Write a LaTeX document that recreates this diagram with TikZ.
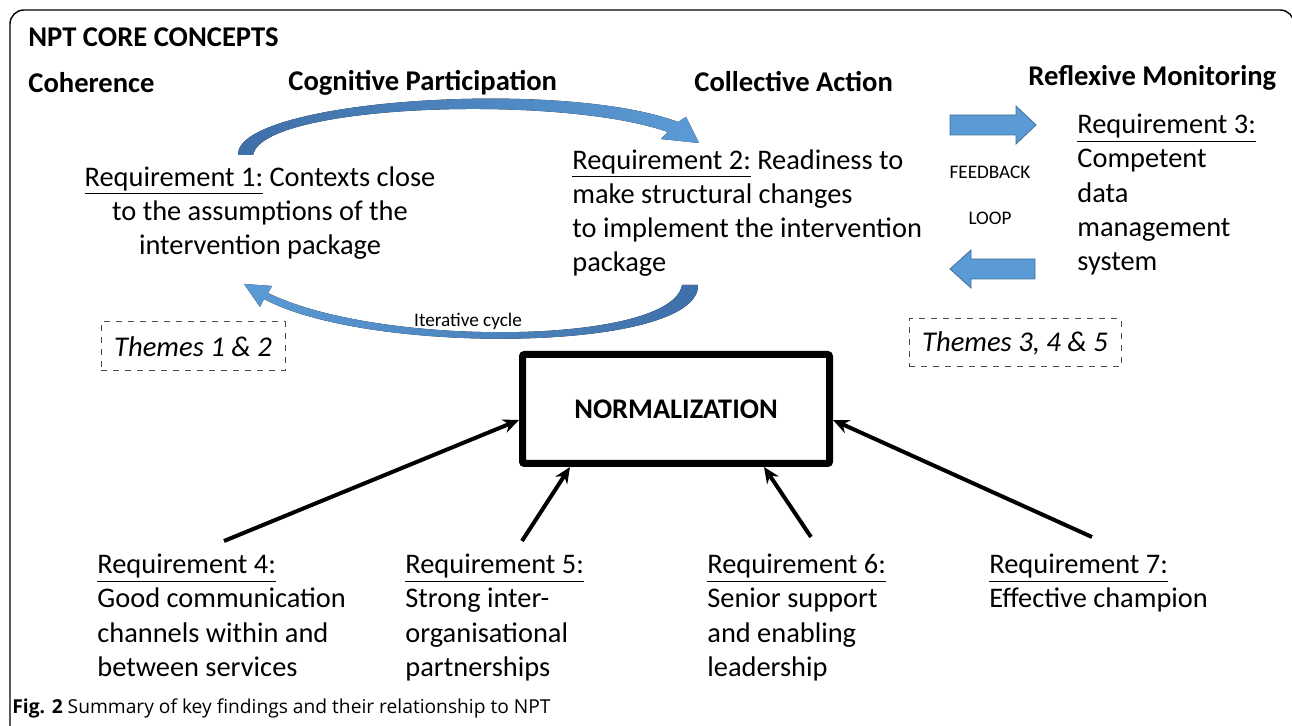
\documentclass[tikz,border=0pt]{standalone}
\usepackage{fontspec}
\setmainfont{Carlito}
\newfontfamily\capfont{Open Sans}
\usetikzlibrary{arrows.meta,positioning}
\definecolor{arcdark}{HTML}{3F6FA8}
\definecolor{arclight}{HTML}{5B9BD5}
\definecolor{blockblue}{HTML}{5B9BD5}
\definecolor{blockedge}{HTML}{41719C}
\newcommand{\ul}[1]{\underline{\smash{#1}\vphantom{Rq}}}
\begin{document}
\begin{tikzpicture}[x=0.5pt,y=-0.5pt,
  heading/.style={font=\bfseries\fontsize{14.3}{17}\selectfont, inner sep=0, anchor=west},
  reqtext/.style={font=\fontsize{14.2}{17.1}\selectfont, inner sep=0, align=left, anchor=north west},
  themebox/.style={draw=black!70, dashed, line width=0.5pt, font=\itshape\fontsize{14.3}{17}\selectfont},
  feed/.style={font=\fontsize{9.6}{11}\selectfont, inner sep=0},
  normbox/.style={draw, line width=3.5pt, rounded corners=1pt, minimum width=153.5pt, minimum height=54.5pt, font=\bfseries\fontsize{14.2}{17}\selectfont},
  pointer/.style={line width=2pt, -{Stealth[length=8pt, width=7pt]}},
  blockarrow/.style={fill=blockblue, draw=blockedge, line width=0.4pt}]
\useasboundingbox (0,0) rectangle (1292,726);
\begin{scope}
  \clip (0,0) rectangle (1292,726);
  \draw[line width=0.7pt, rounded corners=7pt] (10,10) rectangle (1294,750);
\end{scope}

% headings
\node[heading] (title) at (28,37) {NPT CORE CONCEPTS};
\node[heading] (coh) at (28,83) {Coherence};
\node[heading] (cog) at (288,83) {Cognitive Participation};
\node[heading] (col) at (694,82) {Collective Action};
\node[heading] (refl) at (1028,78) {Reflexive Monitoring};

% requirements of the core concepts
\node[reqtext, align=center, anchor=north] (req1) at (260,166)
  {\ul{Requirement 1:} Contexts close\\to the assumptions of the\\intervention package};
\node[reqtext] (req2) at (572,149)
  {\ul{Requirement 2:} Readiness to\\make structural changes\\to implement the intervention\\package};
\node[reqtext] (req3) at (1077,115)
  {\ul{Requirement 3:}\\Competent\\data\\management\\system};

% iterative cycle
\fill[left color=arcdark, right color=arclight]
  (238,155) .. controls (236,100) and (560,78) .. (678,122)
  -- (686,117) -- (699,143) -- (661,139) -- (668,132)
  .. controls (560,94) and (262,104) .. (253,155) -- cycle;
\fill[left color=arclight, right color=arcdark]
  (682,285) .. controls (672,345) and (380,348) .. (268,293)
  -- (272,286) -- (244,284) -- (260,307) -- (264,299)
  .. controls (370,356) and (700,352) .. (698,285) -- cycle;
\node[feed] (cycle) at (468,321) {Iterative cycle};

% feedback loop
\draw[blockarrow] (950,115) -- (1016,115) -- (1016,106) -- (1036,125)
  -- (1016,144) -- (1016,135) -- (950,135) -- cycle;
\draw[blockarrow] (1035,259) -- (971,259) -- (971,250) -- (950,269)
  -- (971,288) -- (971,279) -- (1035,279) -- cycle;
\node[feed] (fb) at (990,172) {FEEDBACK};
\node[feed] (loop) at (990,218) {LOOP};

% themes
\node[themebox, minimum width=92pt, minimum height=24.5pt] (th12) at (193,346.5) {Themes 1 \& 2};
\node[themebox, minimum width=106pt, minimum height=24pt] (th345) at (1015,343) {Themes 3, 4 \& 5};

% normalization
\node[normbox] (norm) at (676,409) {NORMALIZATION};

% requirements 4 to 7
\node[reqtext] (req4) at (97,555)
  {\ul{Requirement 4:}\\Good communication\\channels within and\\between services};
\node[reqtext] (req5) at (405,555)
  {\ul{Requirement 5:}\\Strong inter-\\organisational\\partnerships};
\node[reqtext] (req6) at (707,555)
  {\ul{Requirement 6:}\\Senior support\\and enabling\\leadership};
\node[reqtext] (req7) at (989,555)
  {\ul{Requirement 7:}\\Effective champion};

\coordinate (tail4) at (224,541);
\coordinate (tail5) at (522,541);
\coordinate (tail6) at (811,537);
\coordinate (tail7) at (1092,537);
\draw[pointer] (tail4) -- ([yshift=-5.5pt]norm.west);
\draw[pointer] (tail5) -- ([xshift=-53pt]norm.south);
\draw[pointer] (tail6) -- ([xshift=44pt]norm.south);
\draw[pointer] (tail7) -- ([yshift=-5.5pt]norm.east);

% caption
\node[anchor=west, inner sep=0, font=\capfont\fontsize{9.6}{11}\selectfont] (caption) at (12,708)
  {\textbf{Fig. 2} Summary of key findings and their relationship to NPT};
\end{tikzpicture}
\end{document}
